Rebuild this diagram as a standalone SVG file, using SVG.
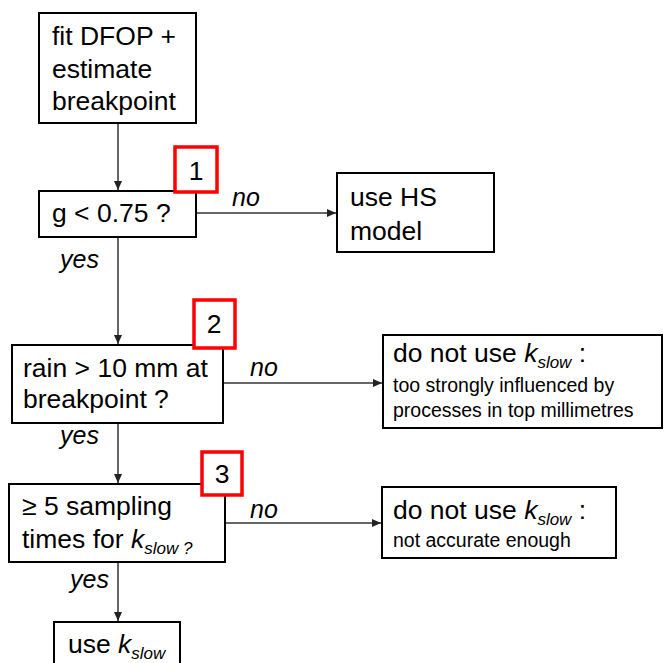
<svg xmlns="http://www.w3.org/2000/svg" width="664" height="663" viewBox="0 0 664 663">
<defs>
<marker id="ah" markerUnits="userSpaceOnUse" markerWidth="10" markerHeight="10" refX="9" refY="4" orient="auto">
<path d="M0,0 L9,4 L0,8 Z" fill="#222"/>
</marker>
<style>
.box{fill:#fff;stroke:#000;stroke-width:2}
.red{fill:#fff;stroke:#f00;stroke-width:3.5}
.t{font-family:"Liberation Sans",Arial,sans-serif;font-size:26.5px;fill:#000}
.s{font-family:"Liberation Sans",Arial,sans-serif;font-size:19.5px;fill:#000}
.l{font-family:"Liberation Sans",Arial,sans-serif;font-size:25px;font-style:italic;fill:#000}
.c{stroke:#333;stroke-width:1.5;fill:none}
.i{font-style:italic}
.sub{font-style:italic;font-size:17px}
</style>
</defs>
<rect width="664" height="663" fill="#fff"/>
<g id="connectors">
<line class="c" x1="118" y1="123" x2="118" y2="190" marker-end="url(#ah)"/>
<line class="c" x1="196" y1="213" x2="336" y2="213" marker-end="url(#ah)"/>
<line class="c" x1="118" y1="237" x2="118" y2="344" marker-end="url(#ah)"/>
<line class="c" x1="223" y1="383" x2="382" y2="383" marker-end="url(#ah)"/>
<line class="c" x1="118" y1="423" x2="118" y2="483" marker-end="url(#ah)"/>
<line class="c" x1="225" y1="523" x2="381" y2="523" marker-end="url(#ah)"/>
<line class="c" x1="118" y1="562" x2="118" y2="621" marker-end="url(#ah)"/>
<text class="l" x="232" y="206">no</text>
<text class="l" x="60" y="268">yes</text>
<text class="l" x="250" y="376">no</text>
<text class="l" x="60" y="444">yes</text>
<text class="l" x="250" y="518">no</text>
<text class="l" x="70" y="588">yes</text>
</g>
<g id="n1">
<rect class="box" x="39" y="13" width="157" height="110"/>
<text class="t" x="52" y="45">fit DFOP +</text>
<text class="t" x="52" y="78">estimate</text>
<text class="t" x="52" y="110">breakpoint</text>
</g>
<g id="n2">
<rect class="box" x="39" y="191" width="157" height="46"/>
<text class="t" x="52" y="222">g &lt; 0.75 ?</text>
</g>
<g id="m1">
<rect class="red" x="175" y="147" width="42" height="45"/>
<text class="t" x="196" y="180" text-anchor="middle">1</text>
</g>
<g id="n3">
<rect class="box" x="337" y="173" width="157" height="79"/>
<text class="t" x="350" y="206">use HS</text>
<text class="t" x="350" y="240">model</text>
</g>
<g id="n4">
<rect class="box" x="12" y="345" width="211" height="78"/>
<text class="t" x="23" y="377">rain &gt; 10 mm at</text>
<text class="t" x="23" y="408">breakpoint ?</text>
</g>
<g id="m2">
<rect class="red" x="194" y="300" width="41" height="48"/>
<text class="t" x="214" y="333" text-anchor="middle">2</text>
</g>
<g id="n5">
<rect class="box" x="383" y="335" width="279" height="93"/>
<text class="t" x="393" y="362">do not use <tspan class="i">k</tspan><tspan class="sub" dy="6">slow</tspan><tspan dy="-6"> :</tspan></text>
<text class="s" x="393" y="392">too strongly influenced by</text>
<text class="s" x="393" y="417">processes in top millimetres</text>
</g>
<g id="n6">
<rect class="box" x="9" y="484" width="216" height="78"/>
<text class="t" x="22" y="515">≥ 5 sampling</text>
<text class="t" x="22" y="548">times for <tspan class="i">k</tspan><tspan class="sub" dy="6">slow ?</tspan></text>
</g>
<g id="m3">
<rect class="red" x="202" y="452" width="40" height="43"/>
<text class="t" x="222" y="483" text-anchor="middle">3</text>
</g>
<g id="n7">
<rect class="box" x="382" y="487" width="234" height="71"/>
<text class="t" x="393" y="519">do not use <tspan class="i">k</tspan><tspan class="sub" dy="6">slow</tspan><tspan dy="-6"> :</tspan></text>
<text class="s" x="393" y="547">not accurate enough</text>
</g>
<g id="n8">
<rect class="box" x="54" y="622" width="126" height="50"/>
<text class="t" x="68" y="653">use <tspan class="i">k</tspan><tspan class="sub" dy="6">slow</tspan></text>
</g>
</svg>
